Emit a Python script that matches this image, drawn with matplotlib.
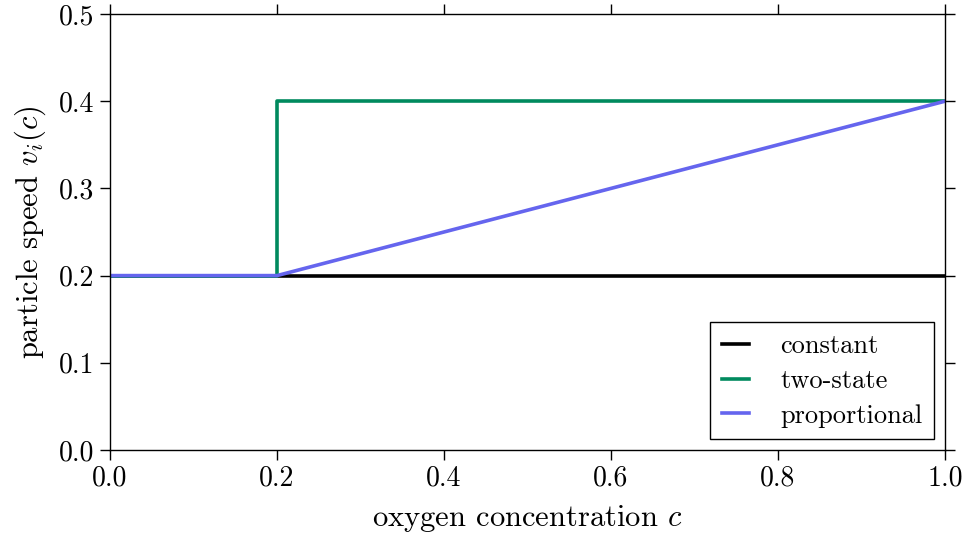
import matplotlib
matplotlib.use("Agg")
import matplotlib.pyplot as plt

plt.rcParams['font.family'] = ['cmr10', 'DejaVu Serif']
plt.rcParams['mathtext.fontset'] = 'cm'
plt.rcParams['axes.formatter.use_mathtext'] = True

# data
const_x = [0.0, 1.0]
const_y = [0.2, 0.2]
two_x = [0.0, 0.2, 0.2, 1.0]
two_y = [0.2, 0.2, 0.4, 0.4]
prop_x = [0.0, 0.2, 1.0]
prop_y = [0.2, 0.2, 0.4]
labels = ["constant", "two-state", "proportional"]
xticks = [0.0, 0.2, 0.4, 0.6, 0.8, 1.0]
yticks = [0.0, 0.1, 0.2, 0.3, 0.4, 0.5]

fig = plt.figure(figsize=(9.65, 5.4), dpi=100)
ax = fig.add_axes([110/965, 1-450/540, (945-110)/965, (450-14)/540])

ax.plot(const_x, const_y, color='black', lw=2.6, label=labels[0])
ax.plot(two_x, two_y, color='#008a5e', lw=2.6, label=labels[1])
ax.plot(prop_x, prop_y, color='#6565ee', lw=2.6, label=labels[2])

ax.set_xlim(0, 1)
ax.set_ylim(0, 0.5)
ax.set_xticks(xticks)
ax.set_yticks(yticks)
ax.set_xticklabels([f"{v:.1f}" for v in xticks])
ax.set_yticklabels([f"{v:.1f}" for v in yticks])
ax.tick_params(direction='out', length=7, width=1, labelsize=20,
               top=True, right=True, pad=4)
for s in ax.spines.values():
    s.set_linewidth(1)
ax.set_xlabel("oxygen concentration $c$", fontsize=22, labelpad=8)
ax.set_ylabel("particle speed $v_i(c)$", fontsize=22, labelpad=8)

leg = ax.legend(loc='lower right', fontsize=19, fancybox=False,
                edgecolor='black', framealpha=1, handlelength=1.0,
                handletextpad=1.2, borderpad=0.45, labelspacing=0.42,
                borderaxespad=0.4)
leg.get_frame().set_linewidth(1)

fig.savefig("out.png", dpi=100)
